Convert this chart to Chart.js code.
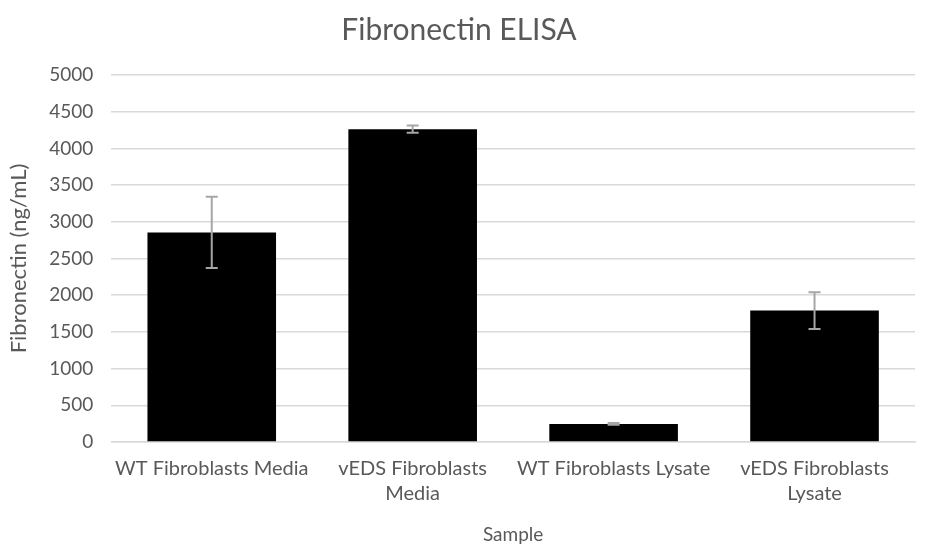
<!DOCTYPE html>
<html>
<head>
<meta charset="utf-8">
<script src="https://cdn.jsdelivr.net/npm/chart.js@4"></script>
<style>
  html, body { margin: 0; padding: 0; background: #fff; }
  #wrap { width: 925px; height: 544px; }
</style>
</head>
<body>
<div id="wrap"><canvas id="elisaChart" width="925" height="544"></canvas></div>
<script>
const samples = [
  ['WT Fibroblasts Media'],
  ['vEDS Fibroblasts', 'Media'],
  ['WT Fibroblasts Lysate'],
  ['vEDS Fibroblasts', 'Lysate']
];
const fibronectin = [2855, 4262, 246, 1790];
const errors = [485, 50, 12, 250];
const yTicks = [0, 500, 1000, 1500, 2000, 2500, 3000, 3500, 4000, 4500, 5000];

// draws the error bars from the y scale
const errorBars = {
  id: 'errorBars',
  afterDatasetsDraw(chart) {
    const ctx = chart.ctx;
    const y = chart.scales.y;
    const meta = chart.getDatasetMeta(0);
    ctx.save();
    ctx.strokeStyle = '#a6a6a6';
    ctx.lineWidth = 2;
    meta.data.forEach((bar, i) => {
      const v = fibronectin[i], e = errors[i];
      const top = y.getPixelForValue(v + e);
      const bot = y.getPixelForValue(v - e);
      const x = bar.x;
      ctx.beginPath();
      ctx.moveTo(x, top); ctx.lineTo(x, bot);
      ctx.moveTo(x - 6, top); ctx.lineTo(x + 6, top);
      ctx.moveTo(x - 6, bot); ctx.lineTo(x + 6, bot);
      ctx.stroke();
    });
    ctx.restore();
  }
};

Chart.defaults.font.family = 'Lato, "Open Sans", sans-serif';
Chart.defaults.color = '#595959';

const ctx = document.getElementById('elisaChart').getContext('2d');
new Chart(ctx, {
  type: 'bar',
  data: {
    labels: samples,
    datasets: [{
      data: fibronectin,
      backgroundColor: '#000000',
      borderWidth: 0,
      categoryPercentage: 1,
      barPercentage: 0.64
    }]
  },
  options: {
    responsive: false,
    animation: false,
    layout: { padding: { left: 3, right: 10, top: 8, bottom: 0 } },
    plugins: {
      legend: { display: false },
      tooltip: { enabled: false },
      title: {
        display: true,
        text: 'Fibronectin ELISA',
        font: { size: 30, weight: 'normal', lineHeight: 1.2 },
        color: '#595959',
        padding: { top: 4, bottom: 27 }
      }
    },
    scales: {
      x: {
        grid: { display: false, drawTicks: false },
        border: { display: true, color: '#d9d9d9', width: 1.5 },
        ticks: { font: { size: 20, lineHeight: 1.25 }, maxRotation: 0, autoSkip: false, padding: 14 },
        title: { display: true, text: 'Sample', font: { size: 19, lineHeight: 1 }, padding: { top: 5, bottom: 0 } }
      },
      y: {
        min: 0,
        max: 5000,
        afterBuildTicks(axis) { axis.ticks = yTicks.map(v => ({ value: v })); },
        grid: { color: '#d9d9d9', lineWidth: 1.5, drawTicks: false },
        border: { display: false },
        ticks: { font: { size: 19 }, padding: 18, callback: v => String(v) },
        title: { display: true, text: 'Fibronectin (ng/mL)', font: { size: 22, lineHeight: 1.1 }, padding: { top: 4, bottom: 0 } }
      }
    }
  },
  plugins: [errorBars]
});
</script>
</body>
</html>
